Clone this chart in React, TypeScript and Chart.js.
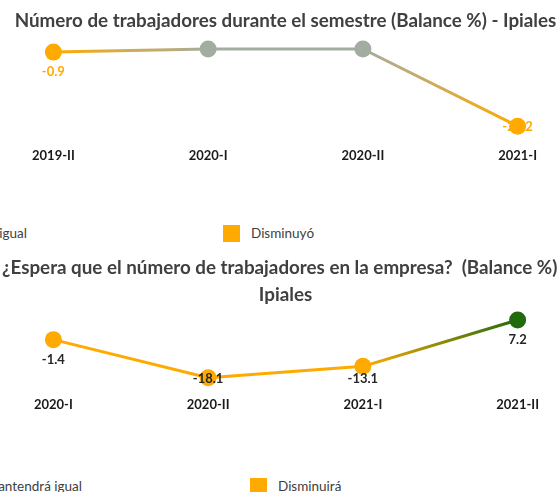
import React, { useEffect, useRef } from "react";
import { Chart, registerables } from "chart.js";

Chart.register(...registerables);

// ---------- data ----------
const topCategories = ["2019-II", "2020-I", "2020-II", "2021-I"];
const topValues = [-0.9, 0, 0, -22.2];
const topTitle = "Número de trabajadores durante el semestre (Balance %) - Ipiales";
const topLegendLabels = ["Se mantuvo igual", "Disminuyó"];

const bottomCategories = ["2020-I", "2020-II", "2021-I", "2021-II"];
const bottomValues = [-1.4, -18.1, -13.1, 7.2];
const bottomTitle = [
  "¿Espera que el número de trabajadores en la empresa?  (Balance %) -",
  "Ipiales",
];
const bottomLegendLabels = ["Se mantendrá igual", "Disminuirá"];

// ---------- style ----------
const ORANGE = "#FFAA00";
const GREY = "#A3ACA1";
const GREEN = "#1F6B0D";
const FONT = "Lato, 'Open Sans', sans-serif";

const colorFor = (v: number) => (v > 0 ? GREEN : v < 0 ? ORANGE : GREY);

const valueLabels = {
  id: "valueLabels",
  afterDatasetsDraw(chart: any, _args: any, opts: any) {
    const { ctx, chartArea } = chart;
    const meta = chart.getDatasetMeta(0);
    const values = chart.data.datasets[0].data as number[];
    ctx.save();
    ctx.font = `bold 13px ${FONT}`;
    ctx.textAlign = "center";
    ctx.textBaseline = "middle";
    meta.data.forEach((pt: any, i: number) => {
      const v = values[i];
      if (v === 0) return;
      const y = Math.min(pt.y + 20, chartArea.bottom - 5.5);
      ctx.fillStyle = opts.color === "auto" ? colorFor(v) : opts.color;
      ctx.fillText(v.toFixed(1), pt.x, y);
    });
    ctx.restore();
  },
};

type LineProps = {
  categories: string[];
  values: number[];
  title: string | string[];
  titleLineHeight: number;
  titlePadding: { top: number; bottom: number };
  yMin: number;
  yMax: number;
  tickPadding: number;
  labelColor: string;
  top: number;
  height: number;
};

function LineChart(p: LineProps) {
  const ref = useRef<HTMLCanvasElement | null>(null);
  useEffect(() => {
    if (!ref.current) return;
    const values = p.values;
    const chart = new Chart(ref.current, {
      type: "line",
      data: {
        labels: p.categories,
        datasets: [
          {
            data: values,
            borderWidth: 3,
            borderColor: ORANGE,
            pointRadius: 8.5,
            pointHoverRadius: 8.5,
            pointBorderWidth: 0,
            pointBackgroundColor: values.map(colorFor),
            pointBorderColor: values.map(colorFor),
            tension: 0,
            clip: false,
            segment: {
              borderColor: (c: any) => {
                const g = c.chart.ctx.createLinearGradient(c.p0.x, c.p0.y, c.p1.x, c.p1.y);
                g.addColorStop(0, colorFor(values[c.p0DataIndex]));
                g.addColorStop(1, colorFor(values[c.p1DataIndex]));
                return g;
              },
            },
          } as any,
        ],
      },
      options: {
        responsive: false,
        animation: false,
        events: [],
        layout: { padding: 0, autoPadding: false },
        plugins: {
          legend: { display: false },
          tooltip: { enabled: false },
          title: {
            display: true,
            text: p.title,
            fullSize: false,
            color: "#404040",
            font: { family: FONT, size: 18.8, weight: "bold", lineHeight: p.titleLineHeight },
            padding: p.titlePadding,
          },
          valueLabels: { color: p.labelColor },
        } as any,
        scales: {
          x: {
            offset: true,
            grid: { display: false, drawTicks: false },
            border: { display: false },
            ticks: {
              padding: p.tickPadding,
              color: "#1A1A1A",
              autoSkip: false,
              maxRotation: 0,
              font: { family: FONT, size: 13, weight: "bold" },
            },
          },
          y: { display: false, min: p.yMin, max: p.yMax },
        },
      },
      plugins: [valueLabels as any],
    });
    return () => chart.destroy();
  }, []);
  return (
    <canvas
      ref={ref}
      width={619}
      height={p.height}
      style={{ position: "absolute", left: -24, top: p.top, width: 619, height: p.height }}
    />
  );
}

function Swatch({ color }: { color: string }) {
  return <span style={{ display: "inline-block", width: 17, height: 17, background: color, flex: "none" }} />;
}

function LegendRow(props: { labels: string[]; firstEnd: number; secondBox: number; centerY: number }) {
  const common: React.CSSProperties = {
    position: "absolute",
    top: props.centerY - 10,
    height: 20,
    display: "flex",
    alignItems: "center",
    gap: 11,
    whiteSpace: "nowrap",
    font: `13.5px ${FONT}`,
    color: "#404040",
  };
  return (
    <>
      <div style={{ ...common, right: 559 - props.firstEnd }}>
        <Swatch color={GREY} />
        <span>{props.labels[0]}</span>
      </div>
      <div style={{ ...common, left: props.secondBox }}>
        <Swatch color={ORANGE} />
        <span>{props.labels[1]}</span>
      </div>
    </>
  );
}

export default function App() {
  return (
    <div
      style={{
        position: "fixed",
        left: 0,
        top: 0,
        width: 559,
        height: 492,
        overflow: "hidden",
        background: "#FFFFFF",
      }}
    >
      <LineChart
        categories={topCategories}
        values={topValues}
        title={topTitle}
        titleLineHeight={1.2}
        titlePadding={{ top: 10, bottom: 6 }}
        yMin={-24}
        yMax={3}
        tickPadding={16}
        labelColor="auto"
        top={0}
        height={180}
      />
      <LegendRow labels={topLegendLabels} firstEnd={27} secondBox={223} centerY={233} />
      <LineChart
        categories={bottomCategories}
        values={bottomValues}
        title={bottomTitle}
        titleLineHeight={1.41}
        titlePadding={{ top: 9, bottom: 1 }}
        yMin={-21}
        yMax={12}
        tickPadding={13}
        labelColor="#262626"
        top={246}
        height={180}
      />
      <LegendRow labels={bottomLegendLabels} firstEnd={82} secondBox={250} centerY={486} />
    </div>
  );
}
